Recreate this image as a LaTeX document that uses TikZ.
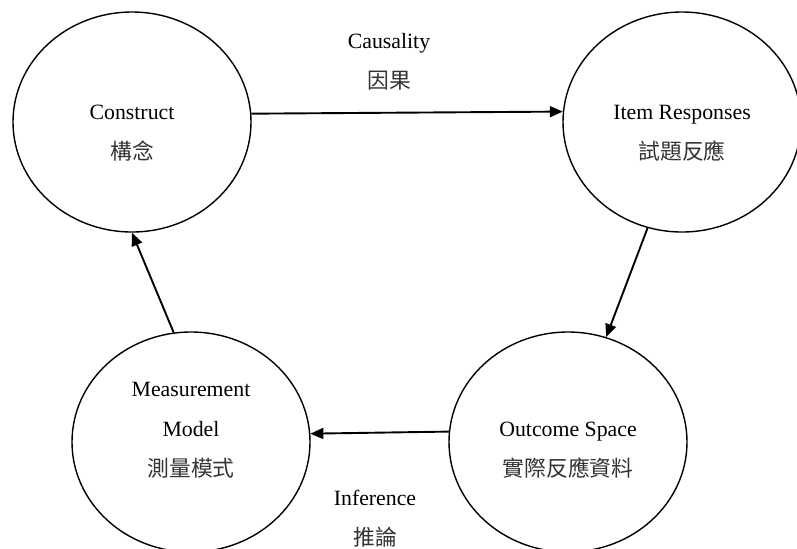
\documentclass[tikz,border=0pt]{standalone}
\usepackage{fontspec}
\setmainfont{Liberation Serif}
\newfontfamily\cjk{Noto Sans CJK TC}
\usepackage{tikz}
\usetikzlibrary{shapes.geometric,arrows.meta,positioning}

\begin{document}
\begin{tikzpicture}[x=0.5pt, y=-0.5pt,
    bubble/.style={draw, ellipse, line width=0.7pt, minimum width=119pt, minimum height=110pt, inner sep=0pt},
    txt/.style={align=center, font=\fontsize{10.9pt}{20pt}\selectfont},
    link/.style={-{Triangle[length=6.5pt, width=5.5pt]}, line width=0.95pt}]
    \useasboundingbox (0,0) rectangle (797,548);

    % Circles
    \node[bubble] (con) at (132,122) {};
    \node[bubble] (item) at (682,122) {};
    \node[bubble] (out) at (568,442) {};
    \node[bubble] (meas) at (191,442) {};

    % Texts in the circles
    \node[txt] (contxt) at (132,133) {Construct\\{\cjk\color{black!80}構念}};
    \node[txt] (itemtxt) at (682,133) {Item Responses\\{\cjk\color{black!80}試題反應}};
    \node[txt] (outtxt) at (568,450) {Outcome Space\\{\cjk\color{black!80}實際反應資料}};
    \node[txt] (meastxt) at (191,430) {Measurement\\Model\\{\cjk\color{black!80}測量模式}};

    % Arrow labels
    \node[txt] (cause) at (389,62) {Causality\\{\cjk\color{black!80}因果}};
    \node[txt] (infer) at (375,519) {Inference\\{\cjk\color{black!80}推論}};

    % Connections
    \draw[link] (con.4.8) -- (item.175.2);
    \draw[link] (item.252) -- (out.70);
    \draw[link] (out.175.2) -- (meas.4.8);
    \draw[link] (meas.99.8) -- (con.270);
\end{tikzpicture}
\end{document}
